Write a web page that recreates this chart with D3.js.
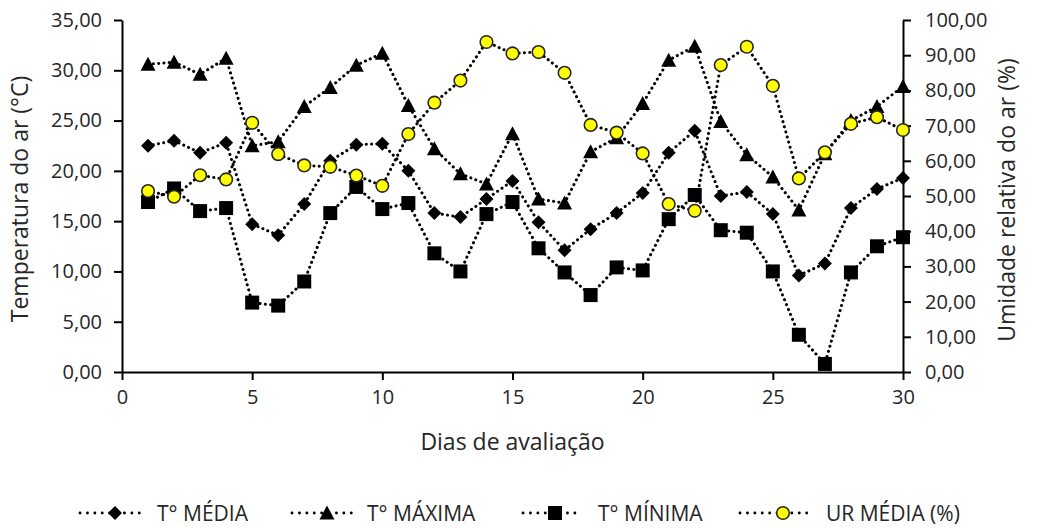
<!DOCTYPE html>
<html lang="pt">
<head>
<meta charset="utf-8">
<script src="https://cdn.jsdelivr.net/npm/d3@7"></script>
<style>
  html, body { margin: 0; padding: 0; background: #fff; }
  svg { display: block; font-family: "Open Sans", "Noto Sans", sans-serif; }
</style>
</head>
<body>
<svg id="chart" width="1037" height="528"></svg>
<script>
// Dias de avaliação (1–30)
const dias = [1,2,3,4,5,6,7,8,9,10,11,12,13,14,15,16,17,18,19,20,21,22,23,24,25,26,27,28,29,30];

// Temperatura do ar (°C)
const tMedia  = [22.5, 23.0, 21.8, 22.8, 14.7, 13.6, 16.7, 21.0, 22.6, 22.7, 20.0, 15.8, 15.4, 17.2, 19.0,
                 14.9, 12.1, 14.2, 15.8, 17.8, 21.8, 24.0, 17.5, 17.9, 15.7, 9.6, 10.8, 16.3, 18.2, 19.3];
const tMaxima = [30.6, 30.8, 29.6, 31.2, 22.5, 22.9, 26.4, 28.3, 30.5, 31.7, 26.5, 22.2, 19.7, 18.7, 23.7,
                 17.2, 16.8, 21.9, 23.3, 26.7, 31.0, 32.4, 24.9, 21.6, 19.4, 16.1, 21.7, 25.0, 26.4, 28.4];
const tMinima = [16.9, 18.25, 16.0, 16.3, 6.9, 6.6, 9.0, 15.8, 18.4, 16.2, 16.8, 11.8, 10.0, 15.7, 16.9,
                 12.3, 9.9, 7.65, 10.4, 10.1, 15.2, 17.6, 14.1, 13.85, 10.0, 3.7, 0.8, 9.9, 12.5, 13.4];

// Umidade relativa do ar (%)
const urMedia = [51.4, 49.8, 55.9, 54.7, 70.8, 61.9, 58.7, 58.3, 55.8, 52.9, 67.6, 76.5, 82.8, 93.75, 90.5,
                 90.9, 85.0, 70.2, 68.0, 62.1, 47.7, 45.8, 87.2, 92.4, 81.3, 55.0, 62.4, 70.5, 72.4, 68.75];

// Tick values and labels
const xTicks  = [0, 5, 10, 15, 20, 25, 30];
const yLTicks = [0, 5, 10, 15, 20, 25, 30, 35];
const yRTicks = [0, 10, 20, 30, 40, 50, 60, 70, 80, 90, 100];

const seriesNames = ["T° MÉDIA", "T° MÁXIMA", "T° MÍNIMA", "UR MÉDIA (%)"];
const xTitle  = "Dias de avaliação";
const yLTitle = "Temperatura do ar (°C)";
const yRTitle = "Umidade relativa do ar (%)";

const svg = d3.select("#chart");
const textColor = "#262626";

const ptBR = d3.formatLocale({ decimal: ",", thousands: ".", grouping: [3], currency: ["R$", ""] });
const fmt2 = ptBR.format(".2f");

const plot = { left: 122, right: 903, top: 20, bottom: 372 };

const x  = d3.scaleLinear().domain([0, 30]).range([plot.left, plot.right]);
const yL = d3.scaleLinear().domain([0, 35]).range([plot.bottom, plot.top]);
const yR = d3.scaleLinear().domain([0, 100]).range([plot.bottom, plot.top]);

// Axes
function styleAxis(g) {
  g.selectAll(".domain").attr("stroke", "#000").attr("stroke-width", 2);
  g.selectAll(".tick line").attr("stroke", "#000").attr("stroke-width", 2);
  g.selectAll(".tick text").attr("fill", textColor).style("font-size", "20px")
    .style("font-family", "'Open Sans', sans-serif");
}

svg.append("g")
  .attr("transform", `translate(0,${plot.bottom})`)
  .call(d3.axisBottom(x).tickValues(xTicks).tickSize(8).tickSizeOuter(0).tickPadding(10).tickFormat(d3.format("d")))
  .call(styleAxis);

svg.append("g")
  .attr("transform", `translate(${plot.left},0)`)
  .call(d3.axisLeft(yL).tickValues(yLTicks).tickSize(8).tickSizeOuter(0).tickPadding(12).tickFormat(fmt2))
  .call(styleAxis);

svg.append("g")
  .attr("transform", `translate(${plot.right},0)`)
  .call(d3.axisRight(yR).tickValues(yRTicks).tickSize(8).tickSizeOuter(0).tickPadding(14).tickFormat(fmt2))
  .call(styleAxis);

// Axis titles
svg.append("text")
  .attr("x", (plot.left + plot.right) / 2).attr("y", 450)
  .attr("text-anchor", "middle").attr("fill", textColor)
  .style("font-size", "23px").text(xTitle);

svg.append("text")
  .attr("transform", `translate(28,${(plot.top + plot.bottom) / 2 + 3}) rotate(-90)`)
  .attr("text-anchor", "middle").attr("fill", textColor)
  .style("font-size", "23px").text(yLTitle);

svg.append("text")
  .attr("transform", `translate(1015,${(plot.top + plot.bottom) / 2 + 4}) rotate(-90)`)
  .attr("text-anchor", "middle").attr("fill", textColor)
  .style("font-size", "23px").text(yRTitle);

// Marker shapes
const markerPath = {
  diamond:  "M0,-7L7,0L0,7L-7,0Z",
  triangle: "M0,-7.5L7.5,6.5L-7.5,6.5Z",
  square:   "M-7,-7H7V7H-7Z"
};

function drawMarker(g, shape, cx, cy) {
  if (shape === "circle") {
    g.append("circle").attr("cx", cx).attr("cy", cy).attr("r", 6.3)
      .attr("fill", "#ffff00").attr("stroke", "#262626").attr("stroke-width", 1.6);
  } else {
    g.append("path").attr("d", markerPath[shape])
      .attr("transform", `translate(${cx},${cy})`).attr("fill", "#000");
  }
}

const series = [
  { name: seriesNames[0], values: tMedia,  y: yL, shape: "diamond"  },
  { name: seriesNames[1], values: tMaxima, y: yL, shape: "triangle" },
  { name: seriesNames[2], values: tMinima, y: yL, shape: "square"   },
  { name: seriesNames[3], values: urMedia, y: yR, shape: "circle"   }
];

const plotG = svg.append("g");
series.forEach(s => {
  const g = plotG.append("g");
  const line = d3.line().x((d, i) => x(dias[i])).y(d => s.y(d));
  g.append("path").datum(s.values).attr("d", line)
    .attr("fill", "none").attr("stroke", "#000").attr("stroke-width", 3)
    .attr("stroke-linecap", "round").attr("stroke-dasharray", "0.1 5.2");
  s.values.forEach((v, i) => drawMarker(g, s.shape, x(dias[i]), s.y(v)));
});

// Legend
const legendItems = [
  { x0: 80,  mx: 115, x1: 145, tx: 157 },
  { x0: 292, mx: 327, x1: 352, tx: 367 },
  { x0: 523, mx: 555, x1: 582, tx: 598 },
  { x0: 740, mx: 783, x1: 812, tx: 826 }
];
const legY = 513;
const leg = svg.append("g");
series.forEach((s, i) => {
  const it = legendItems[i];
  const g = leg.append("g");
  g.append("line").attr("x1", it.x0).attr("x2", it.x1).attr("y1", legY).attr("y2", legY)
    .attr("stroke", "#000").attr("stroke-width", 2.8)
    .attr("stroke-linecap", "round").attr("stroke-dasharray", "0.1 7.3");
  drawMarker(g, s.shape, it.mx, legY);
  g.append("text").attr("x", it.tx).attr("y", legY + 8)
    .attr("fill", textColor).style("font-size", "21px").text(s.name);
});
</script>
</body>
</html>
